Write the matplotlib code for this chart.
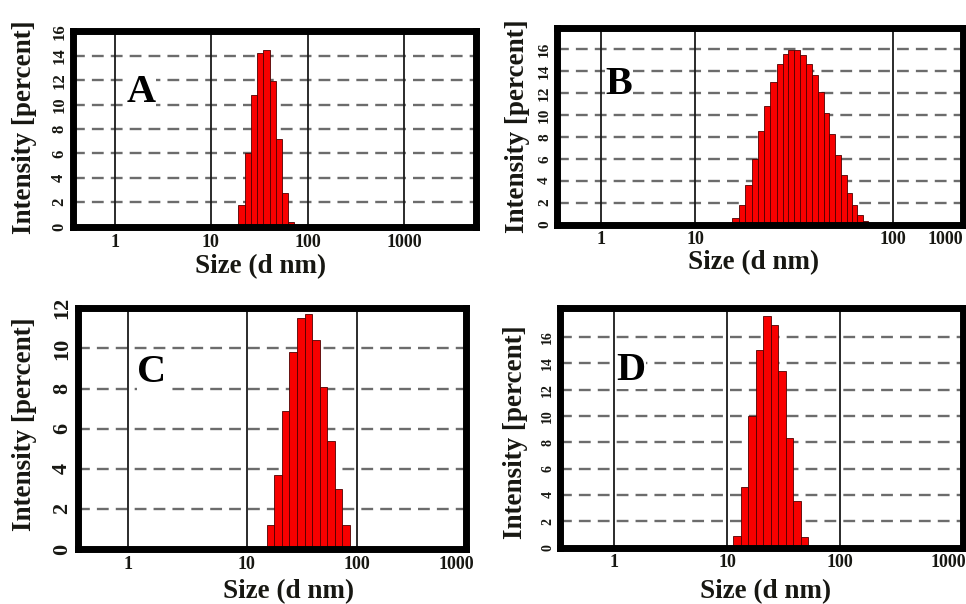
import numpy as np
import matplotlib
matplotlib.use("Agg")
import matplotlib.pyplot as plt
from matplotlib.ticker import NullLocator

plt.rcParams["font.family"] = "Liberation Serif"
plt.rcParams["font.weight"] = "bold"

# size classes (bin edges, nm) and intensity (%)
a_edges = [19.2, 22.2, 25.8, 29.8, 34.6, 40.1, 46.5, 53.8, 62.4, 72.2]
a_heights = [1.8, 6.0, 10.8, 14.2, 14.5, 11.9, 7.2, 2.8, 0.4]

b_edges = [15.3, 16.6, 17.9, 19.3, 20.9, 22.3, 23.9, 25.9, 27.7, 29.6, 31.6, 33.9,
           36.4, 38.9, 42.0, 44.8, 47.7, 50.9, 54.4, 58.4, 61.9, 66.0, 70.8, 75.1]
b_heights = [0.6, 1.8, 3.6, 6.0, 8.5, 10.8, 13.0, 14.6, 15.6, 15.95, 15.95, 15.5,
             14.6, 13.6, 12.1, 10.2, 8.3, 6.3, 4.5, 2.9, 1.8, 0.9, 0.35]

c_edges = [15.2, 17.8, 20.8, 24.3, 28.5, 33.4, 39.0, 45.7, 53.6, 62.6, 73.3, 85.9]
c_heights = [1.2, 3.7, 6.9, 9.8, 11.5, 11.7, 10.4, 8.1, 5.4, 3.0, 1.2]

d_edges = [11.3, 13.2, 15.3, 17.9, 20.8, 24.3, 28.3, 32.9, 38.4, 44.7, 52.1]
d_heights = [0.9, 4.6, 10.0, 15.0, 17.6, 16.9, 13.4, 8.3, 3.5, 0.8]

x_ticks = [1, 10, 100, 1000]
x_labels = ["1", "10", "100", "1000"]

W, H = 966, 604
TXT = "#171712"

fig = plt.figure(figsize=(W / 100, H / 100), dpi=100)
fig.patch.set_facecolor("white")


def log_warp(tick_px):
    # the scanned panels do not share one decade width, so map each decade
    # onto the pixel column where its tick sits
    p = list(tick_px)
    logs = [-4, 0, 1, 2, 3, 7]
    px = [p[0] - 4 * (p[1] - p[0])] + p + [p[3] + 4 * (p[3] - p[2])]

    def fwd(x):
        x = np.clip(np.asarray(x, dtype=float), 1e-9, None)
        return np.interp(np.log10(x), logs, px)

    def inv(v):
        return 10 ** np.interp(np.asarray(v, dtype=float), px, logs)

    return fwd, inv


def draw_panel(edges, heights, letter, box, ylim, ytop, tick_px, vgrid,
               ytick_fs, letter_pos, ylabel_pos, xlabel_pos):
    x0, y0, x1, y1 = box
    ax = fig.add_axes([x0 / W, 1 - y1 / H, (x1 - x0) / W, (y1 - y0) / H])
    fwd, inv = log_warp(tick_px)
    ax.set_xscale("function", functions=(fwd, inv))
    ax.set_xlim(float(inv(x0)), float(inv(x1)))
    ax.set_ylim(*ylim)

    edges = np.array(edges)
    ax.bar(edges[:-1], heights, width=np.diff(edges), align="edge",
           color="#f80000", edgecolor="#500000", linewidth=0.6, zorder=2)

    ax.set_axisbelow(True)
    ax.yaxis.grid(True, color="#6c6c6c", linewidth=1.7, linestyle=(0, (5, 3)))
    for v in vgrid:
        ax.axvline(v, color="#1a1a1a", linewidth=1.3, zorder=0.8)

    ax.set_xticks(x_ticks, x_labels)
    ax.xaxis.set_minor_locator(NullLocator())
    ax.set_yticks(np.arange(0, ytop + 1, 2))
    ax.tick_params(length=0, colors=TXT)
    ax.tick_params(axis="x", labelsize=13, pad=5)
    ax.tick_params(axis="y", labelsize=ytick_fs, pad=4, labelrotation=90)
    for lab in ax.get_yticklabels():
        lab.set_verticalalignment("center")
    for s in ax.spines.values():
        s.set_linewidth(5)
        s.set_color("black")
        s.set_zorder(3)

    fig.text(letter_pos[0] / W, 1 - letter_pos[1] / H, letter, ha="center",
             va="center", fontsize=29, color="black",
             bbox=dict(facecolor="white", edgecolor="none", pad=0.2))
    fig.text(ylabel_pos[0] / W, 1 - ylabel_pos[1] / H, "Intensity [percent]",
             rotation=90, ha="center", va="center", fontsize=19.5, color=TXT)
    fig.text(xlabel_pos[0] / W, 1 - xlabel_pos[1] / H, "Size (d nm)",
             ha="center", va="center", fontsize=19.5, color=TXT)


draw_panel(a_edges, a_heights, "A", (72.8, 31.3, 475.7, 226.7), (0, 16), 16,
           (115, 210.7, 308.3, 404), [1, 10, 100, 1000], 12,
           (141, 92.5), (25, 126.7), (261, 267))
draw_panel(b_edges, b_heights, "B", (556.7, 28.3, 963, 224.5), (0, 17.9), 16,
           (601, 695, 893, 945), [1, 10, 100], 11,
           (619, 84), (517, 126), (754, 263))
draw_panel(c_edges, c_heights, "C", (77.5, 308.3, 466, 549), (0, 12), 12,
           (128.3, 246.7, 357.3, 456.7), [1, 10, 100], 16,
           (152, 372), (25, 424), (289, 592))
draw_panel(d_edges, d_heights, "D", (560, 308, 963, 547.5), (0, 18.2), 16,
           (614.3, 727.3, 840, 948), [1, 10, 100], 10,
           (631, 370), (516, 431.7), (766, 592))

fig.savefig("out.png", dpi=100)
